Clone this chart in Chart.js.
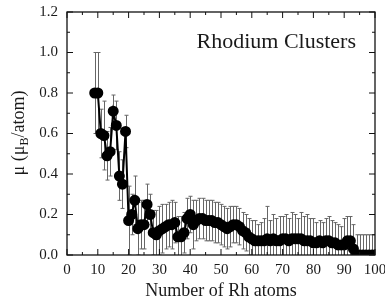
<!DOCTYPE html>
<html>
<head>
<meta charset="utf-8">
<script src="https://cdn.jsdelivr.net/npm/chart.js@4.4.0/dist/chart.umd.min.js"></script>
<style>
  html, body { margin: 0; padding: 0; background: #fff; }
  #wrap { width: 385px; height: 304px; position: relative; }
</style>
</head>
<body>
<div id="wrap"><canvas id="chart"></canvas></div>
<script>
// cluster size (number of Rh atoms)
const atoms = [
  9, 10, 11, 12, 13, 14, 15, 16, 17, 18, 19, 20, 21, 22, 23, 24, 25, 26, 27, 28,
  29, 30, 31, 32, 33, 34, 35, 36, 37, 38, 39, 40, 41, 42, 43, 44, 45, 46, 47, 48,
  49, 50, 51, 52, 53, 54, 55, 56, 57, 58, 59, 60, 61, 62, 63, 64, 65, 66, 67, 68,
  69, 70, 71, 72, 73, 74, 75, 76, 77, 78, 79, 80, 81, 82, 83, 84, 85, 86, 87, 88,
  89, 90, 91, 92, 93, 94, 95, 96, 97, 98, 99, 100
];
// magnetic moment per atom (mu_B)
const moment = [
  0.80, 0.80, 0.60, 0.59, 0.49, 0.51, 0.71, 0.64, 0.39, 0.35, 0.61, 0.17, 0.20, 0.27, 0.13, 0.15, 0.15, 0.25, 0.20, 0.11,
  0.10, 0.12, 0.13, 0.14, 0.15, 0.15, 0.16, 0.09, 0.09, 0.11, 0.18, 0.20, 0.15, 0.17, 0.18, 0.18, 0.17, 0.17, 0.17, 0.16,
  0.16, 0.15, 0.14, 0.13, 0.14, 0.15, 0.15, 0.14, 0.12, 0.11, 0.09, 0.08, 0.07, 0.07, 0.07, 0.07, 0.08, 0.07, 0.08, 0.07,
  0.07, 0.08, 0.08, 0.07, 0.08, 0.08, 0.08, 0.08, 0.07, 0.07, 0.07, 0.06, 0.06, 0.07, 0.06, 0.07, 0.07, 0.06, 0.06, 0.05,
  0.05, 0.05, 0.07, 0.07, 0.03, 0.00, 0.00, 0.00, 0.00, 0.00, 0.00, 0.00
];
// error bar half-height
const momentErr = [
  0.20, 0.20, 0.12, 0.17, 0.12, 0.12, 0.08, 0.12, 0.12, 0.12, 0.08, 0.17, 0.10, 0.12, 0.13, 0.12, 0.12, 0.10, 0.10, 0.11,
  0.12, 0.12, 0.12, 0.11, 0.11, 0.12, 0.10, 0.10, 0.10, 0.10, 0.10, 0.09, 0.12, 0.10, 0.10, 0.10, 0.10, 0.10, 0.10, 0.10,
  0.10, 0.10, 0.10, 0.10, 0.10, 0.09, 0.09, 0.09, 0.09, 0.09, 0.09, 0.09, 0.10, 0.08, 0.09, 0.11, 0.16, 0.10, 0.12, 0.11,
  0.12, 0.11, 0.12, 0.11, 0.13, 0.12, 0.10, 0.13, 0.12, 0.13, 0.11, 0.12, 0.10, 0.10, 0.10, 0.11, 0.12, 0.11, 0.10, 0.10,
  0.09, 0.13, 0.12, 0.12, 0.12, 0.10, 0.10, 0.10, 0.10, 0.10, 0.10, 0.10
];

const xTicks = [0, 10, 20, 30, 40, 50, 60, 70, 80, 90, 100];
const xMinorTicks = [5, 15, 25, 35, 45, 55, 65, 75, 85, 95];
const yTicks = [0.0, 0.2, 0.4, 0.6, 0.8, 1.0, 1.2];
const yMinorTicks = [0.1, 0.3, 0.5, 0.7, 0.9, 1.1];

const serif = '"Liberation Serif", "DejaVu Serif", serif';

const errorBars = {
  id: 'errorBars',
  beforeDatasetsDraw(chart) {
    const { ctx, chartArea: a, scales: { x, y } } = chart;
    ctx.save();
    ctx.beginPath();
    ctx.rect(a.left, a.top, a.right - a.left, a.bottom - a.top);
    ctx.clip();
    ctx.strokeStyle = '#666';
    ctx.lineWidth = 1;
    ctx.beginPath();
    atoms.forEach((n, i) => {
      const px = Math.round(x.getPixelForValue(n)) + 0.5;
      const top = y.getPixelForValue(moment[i] + momentErr[i]);
      const bot = y.getPixelForValue(moment[i] - momentErr[i]);
      ctx.moveTo(px, top); ctx.lineTo(px, bot);
      ctx.moveTo(px - 2, top); ctx.lineTo(px + 2, top);
      ctx.moveTo(px - 2, bot); ctx.lineTo(px + 2, bot);
    });
    ctx.stroke();
    ctx.restore();
  }
};

const frame = {
  id: 'frame',
  afterDraw(chart) {
    const { ctx, chartArea: a, scales: { x, y } } = chart;
    ctx.save();
    ctx.strokeStyle = '#111';
    ctx.lineWidth = 1.3;
    ctx.strokeRect(a.left, a.top, a.right - a.left, a.bottom - a.top);
    ctx.lineWidth = 1;
    ctx.beginPath();
    const xt = (v, len) => {
      const px = x.getPixelForValue(v);
      ctx.moveTo(px, a.bottom); ctx.lineTo(px, a.bottom - len);
      ctx.moveTo(px, a.top); ctx.lineTo(px, a.top + len);
    };
    const yt = (v, len) => {
      const py = y.getPixelForValue(v);
      ctx.moveTo(a.left, py); ctx.lineTo(a.left + len, py);
      ctx.moveTo(a.right, py); ctx.lineTo(a.right - len, py);
    };
    xTicks.forEach(v => xt(v, 6));
    xMinorTicks.forEach(v => xt(v, 3));
    yTicks.forEach(v => yt(v, 6));
    yMinorTicks.forEach(v => yt(v, 3));
    ctx.stroke();

    // inset label
    ctx.fillStyle = '#1a1a1a';
    ctx.font = '22px ' + serif;
    ctx.textAlign = 'right';
    ctx.textBaseline = 'alphabetic';
    ctx.fillText('Rhodium Clusters', 356, 48);

    // y axis title with subscript
    ctx.translate(24, 133);
    ctx.rotate(-Math.PI / 2);
    const big = '18px ' + serif, small = '12px ' + serif;
    const parts = [['\u03bc (\u03bc', big, 0], ['B', small, 4], ['/atom)', big, 0]];
    let w = 0;
    parts.forEach(p => { ctx.font = p[1]; w += ctx.measureText(p[0]).width; });
    let cx = -w / 2;
    ctx.textAlign = 'left';
    parts.forEach(p => {
      ctx.font = p[1];
      ctx.fillText(p[0], cx, p[2]);
      cx += ctx.measureText(p[0]).width;
    });
    ctx.restore();
  }
};

new Chart(document.getElementById('chart'), {
  type: 'line',
  data: {
    datasets: [{
      data: atoms.map((n, i) => ({ x: n, y: moment[i] })),
      borderColor: '#000',
      backgroundColor: '#000',
      borderWidth: 2,
      pointRadius: 4.5,
      pointHoverRadius: 4.5,
      tension: 0,
    }],
  },
  options: {
    responsive: true,
    maintainAspectRatio: false,
    animation: false,
    layout: { padding: { top: 12, right: 10, left: 0, bottom: 0 } },
    plugins: { legend: { display: false }, tooltip: { enabled: false } },
    scales: {
      x: {
        type: 'linear',
        min: 0,
        max: 100,
        afterBuildTicks: s => { s.ticks = xTicks.map(v => ({ value: v })); },
        afterFit: s => { s.height = 49; s.paddingLeft = 0; s.paddingRight = 0; },
        grid: { display: false, drawTicks: false },
        border: { display: false },
        ticks: { padding: 6, color: '#1a1a1a', font: { family: serif, size: 15 }, maxRotation: 0, autoSkip: false },
        title: { display: true, text: 'Number of Rh atoms', color: '#1a1a1a', font: { family: serif, size: 18 }, padding: { top: 0, bottom: 2 } },
      },
      y: {
        min: 0,
        max: 1.2,
        afterBuildTicks: s => { s.ticks = yTicks.map(v => ({ value: v })); },
        afterFit: s => { s.width = 67; s.paddingTop = 0; s.paddingBottom = 0; },
        grid: { display: false, drawTicks: false },
        border: { display: false },
        ticks: { padding: 9, color: '#1a1a1a', font: { family: serif, size: 15 }, callback: v => v.toFixed(1) },
      },
    },
  },
  plugins: [errorBars, frame],
});
</script>
</body>
</html>
